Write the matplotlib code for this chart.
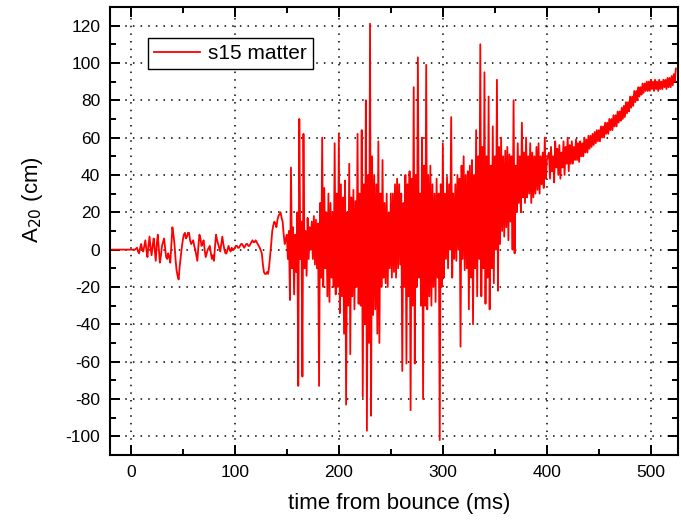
import numpy as np
import matplotlib
matplotlib.use('Agg')
import matplotlib.pyplot as plt
from matplotlib.ticker import MultipleLocator

plt.rcParams['font.family'] = ['Liberation Sans', 'DejaVu Sans']
plt.rcParams['axes.unicode_minus'] = False

# flat part before the signal starts
pre_t = [-20, 4]
pre_a = [0, 0]

# early phase, even ms 6..124 and odd ms 7..123
early_t = np.arange(6, 125, 2)
early_a = [1, -2, 3, -1, 5, -4, 7, -3, 6, -6,
           8, -7, 2, 6, -4, -2, -7, 12, 3, -11,
           -16, -4, 5, 9, 7, 9, 3, 5, 0, -6,
           8, 2, 5, -4, 0, 2, -5, -6, 8, 3,
           -1, 7, 0, -2, 2, -1, 0, 1, 2, 1,
           3, 2, 2, 3, 2, 4, 4, 5, 3, 1]
early_t2 = np.arange(7, 124, 2)
early_a2 = [-1, 1, 0, 2, 0, 2, 1, 2, 0, 3,
            0, -3, 4, 1, -5, -4, 3, 8, -5, -14,
            -9, 1, 8, 6, 9, 5, 4, 2, -3, 2,
            6, 3, 0, -2, 1, -2, -3, 2, 5, 1,
            3, 3, -2, 0, 0, 1, 0, 2, 1, 2,
            3, 1, 3, 2, 3, 5, 4, 4, 2]

# dip and rise before the violent phase, every ms 126..151
onset_t = np.arange(126, 152)
onset_a = [-2, -8, -12, -13, -13, -12, -13, -9, -3, 3,
           10, 13, 15, 14, 12, 16, 18, 19, 20, 17,
           15, 8, 3, 6, 8, -5]

# violent phase: upper swings at even ms 152..400, lower swings at odd ms 153..399
core_hi_t = np.arange(152, 401, 2)
core_hi = [10, 44, 12, 8, 20, 70, 15, 62, 10, 17,
           12, 15, 18, 16, 14, 25, 60, 33, 20, 30,
           25, 20, 57, 30, 62, 35, 28, 37, 20, 46,
           28, 32, 26, 62, 30, 64, 35, 80, 40, 121,
           50, 40, 35, 58, 30, 48, 25, 30, 20, 30,
           30, 35, 38, 35, 30, 25, 40, 35, 42, 38,
           87, 40, 103, 30, 60, 45, 99, 40, 45, 35,
           30, 38, 30, 35, 57, 30, 39, 35, 71, 30,
           35, 40, 38, 45, 50, 40, 42, 45, 48, 40,
           64, 50, 110, 55, 95, 50, 82, 45, 66, 50,
           91, 55, 60, 50, 53, 55, 51, 50, 80, 45,
           57, 50, 68, 52, 60, 50, 57, 52, 50, 55,
           57, 50, 52, 60, 48]
core_lo_t = np.arange(153, 400, 2)
core_lo = [-27, -10, -24, -12, -73, -5, -68, -10, -14, -5,
           0, -5, -8, -10, -73, -15, -20, -10, -25, -28,
           -15, -20, -24, -20, -34, -25, -45, -83, -30, -56,
           -25, -32, -20, -29, -30, -79, -40, -97, -50, -89,
           -35, -32, -45, -50, -20, -15, -18, -20, -10, -15,
           -12, -15, -10, -8, -65, -20, -61, -25, -86, -30,
           -61, -20, -15, -30, -80, -30, -32, -25, -30, -20,
           -28, -15, -102, -20, -15, -5, -10, 0, -15, -5,
           -6, 0, -52, -5, -11, -10, -32, -15, -40, -10,
           -25, -5, -25, -10, -29, -15, -32, -10, -18, 0,
           -22, 3, 10, 7, 12, 5, 15, 0, -2, 20,
           25, 20, 28, 25, 28, 30, 25, 28, 30, 32,
           30, 35, 33, 38]

# slow drift at late times: upper at even ms 402..524, lower at odd ms 403..523
tail_hi_t = np.arange(402, 525, 2)
tail_hi = [52, 55, 50, 58, 54, 56, 52, 58, 55, 60,
           56, 58, 55, 59, 57, 58, 57, 60, 59, 61,
           61, 62, 63, 64, 64, 66, 66, 68, 68, 70,
           70, 72, 72, 74, 74, 76, 77, 79, 79, 82,
           82, 85, 85, 87, 87, 89, 89, 90, 90, 91,
           90, 91, 90, 91, 90, 91, 91, 92, 92, 93,
           94, 97]
tail_lo_t = np.arange(403, 524, 2)
tail_lo = [38, 42, 36, 44, 40, 38, 44, 40, 46, 42,
           46, 46, 48, 48, 47, 50, 50, 52, 52, 54,
           55, 56, 57, 58, 58, 60, 60, 62, 62, 64,
           64, 66, 66, 68, 69, 70, 71, 73, 74, 76,
           77, 79, 80, 82, 83, 84, 85, 85, 85, 86,
           85, 86, 85, 86, 86, 87, 86, 87, 87, 88,
           90]

t = np.concatenate([pre_t, early_t, early_t2, onset_t, core_hi_t, core_lo_t,
                    tail_hi_t, tail_lo_t])
a = np.concatenate([pre_a, early_a, early_a2, onset_a, core_hi, core_lo,
                    tail_hi, tail_lo])
order = np.argsort(t, kind='stable')
t, a = t[order], a[order]

fig = plt.figure(figsize=(6.81, 5.21), dpi=100)
ax = fig.add_axes([0.1615, 0.1267, 0.834, 0.86])

ax.plot(t, a, color='#ff0000', linewidth=1.3, label='s15 matter')

ax.set_xlim(-20, 526)
ax.set_ylim(-110, 130)
ax.xaxis.set_major_locator(MultipleLocator(100))
ax.xaxis.set_minor_locator(MultipleLocator(50))
ax.yaxis.set_major_locator(MultipleLocator(20))
ax.yaxis.set_minor_locator(MultipleLocator(10))

ax.grid(which='major', color='black', linestyle=(0, (1, 4)), linewidth=1.1)
ax.set_axisbelow(True)

ax.tick_params(which='both', direction='in', top=True, right=True, width=1.4,
               labelsize=12.5, pad=7)
ax.tick_params(which='major', length=7)
ax.tick_params(which='minor', length=4)
for s in ax.spines.values():
    s.set_linewidth(1.5)

ax.set_xlabel('time from bounce (ms)', fontsize=16)
ax.set_ylabel('A$_{20}$ (cm)', fontsize=16)
ax.xaxis.set_label_coords(0.51, -0.085)
ax.yaxis.set_label_coords(-0.115, 0.57)

leg = ax.legend(loc='upper left', bbox_to_anchor=(0.067, 0.931), borderaxespad=0,
                fontsize=15, fancybox=False, framealpha=1, edgecolor='black',
                handlelength=2.2, handletextpad=0.4, borderpad=0.3)
leg.get_frame().set_linewidth(1.0)

fig.savefig('out.png', dpi=100)
